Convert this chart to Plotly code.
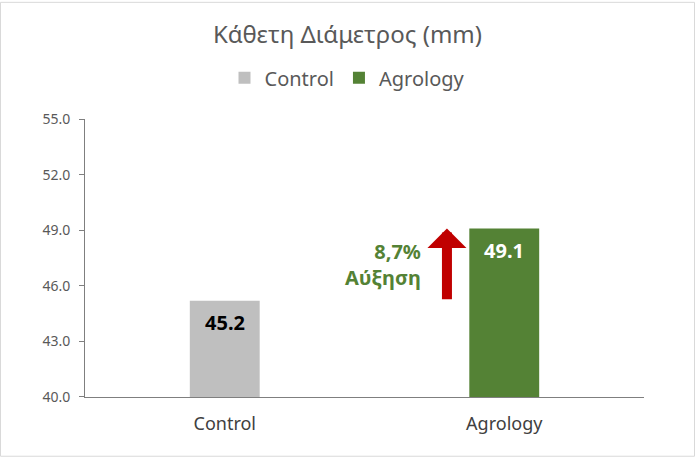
import plotly.graph_objects as go

categories = ["Control", "Agrology"]
values = [45.2, 49.1]
colors = ["#BFBFBF", "#548235"]
label_colors = ["#000000", "#FFFFFF"]
increase_text = "8,7%<br>Αύξηση"
y_ticks = [40, 43, 46, 49, 52, 55]

FONT = "Noto Sans"

fig = go.Figure()
for cat, val, col, lc in zip(categories, values, colors, label_colors):
    fig.add_trace(go.Bar(
        x=[cat], y=[val], name=cat,
        marker=dict(color=col, line=dict(width=0)),
        width=0.25,
    ))
    # value label just under the top of the bar
    fig.add_annotation(
        x=cat, y=val, xref="x", yref="y",
        text=f"<b>{val:.1f}</b>", showarrow=False,
        yanchor="top", yshift=-6,
        font=dict(family=FONT, size=20, color=lc),
    )

# red arrow from control value up to agrology value
fig.add_annotation(
    x=0.795, y=values[1], ax=0.795, ay=values[0],
    xref="x", yref="y", axref="x", ayref="y",
    text="", showarrow=True,
    arrowhead=1, arrowsize=0.65, arrowwidth=10, arrowcolor="#C00000",
    standoff=0, startstandoff=0,
)
fig.add_annotation(
    x=0.71, y=(values[0] + values[1]) / 2,
    xref="x", yref="y",
    text="<b>" + increase_text + "</b>", showarrow=False,
    xanchor="right", yanchor="middle", align="right",
    font=dict(family=FONT, size=20, color="#548235"),
)

fig.update_layout(
    width=695, height=457,
    paper_bgcolor="white", plot_bgcolor="white",
    barmode="overlay",
    margin=dict(l=85, r=51, t=118, b=60),
    title=dict(text="Κάθετη Διάμετρος (mm)", x=0.5, xanchor="center",
               y=0.925, yanchor="middle",
               font=dict(family=FONT, size=24, color="#595959")),
    legend=dict(orientation="h", xref="container", x=0.5, xanchor="center",
                yref="container", y=0.83, yanchor="middle",
                font=dict(family=FONT, size=20, color="#595959"),
                traceorder="normal"),
    font=dict(family=FONT),
    shapes=[dict(type="rect", xref="paper", yref="paper",
                 x0=-84.5 / 559, x1=1 + 50.5 / 559, y0=-59.5 / 279, y1=1 + 117.5 / 279,
                 line=dict(color="#D9D9D9", width=1))],
)
fig.update_xaxes(
    showline=True, linecolor="#7F7F7F", linewidth=1,
    ticks="", showgrid=False,
    tickfont=dict(family=FONT, size=18, color="#404040"),
    ticklabelstandoff=10,
    range=[-0.5, 1.5],
)
fig.update_yaxes(
    range=[40, 55], tickvals=y_ticks,
    tickformat=".1f",
    showline=True, linecolor="#7F7F7F", linewidth=1,
    ticks="outside", ticklen=5, tickcolor="#7F7F7F",
    ticklabelstandoff=6,
    showgrid=False, zeroline=False,
    tickfont=dict(family=FONT, size=14, color="#595959"),
)

fig.write_html("out.html", config={"displayModeBar": False},
               post_script="document.body.style.margin='0';")
